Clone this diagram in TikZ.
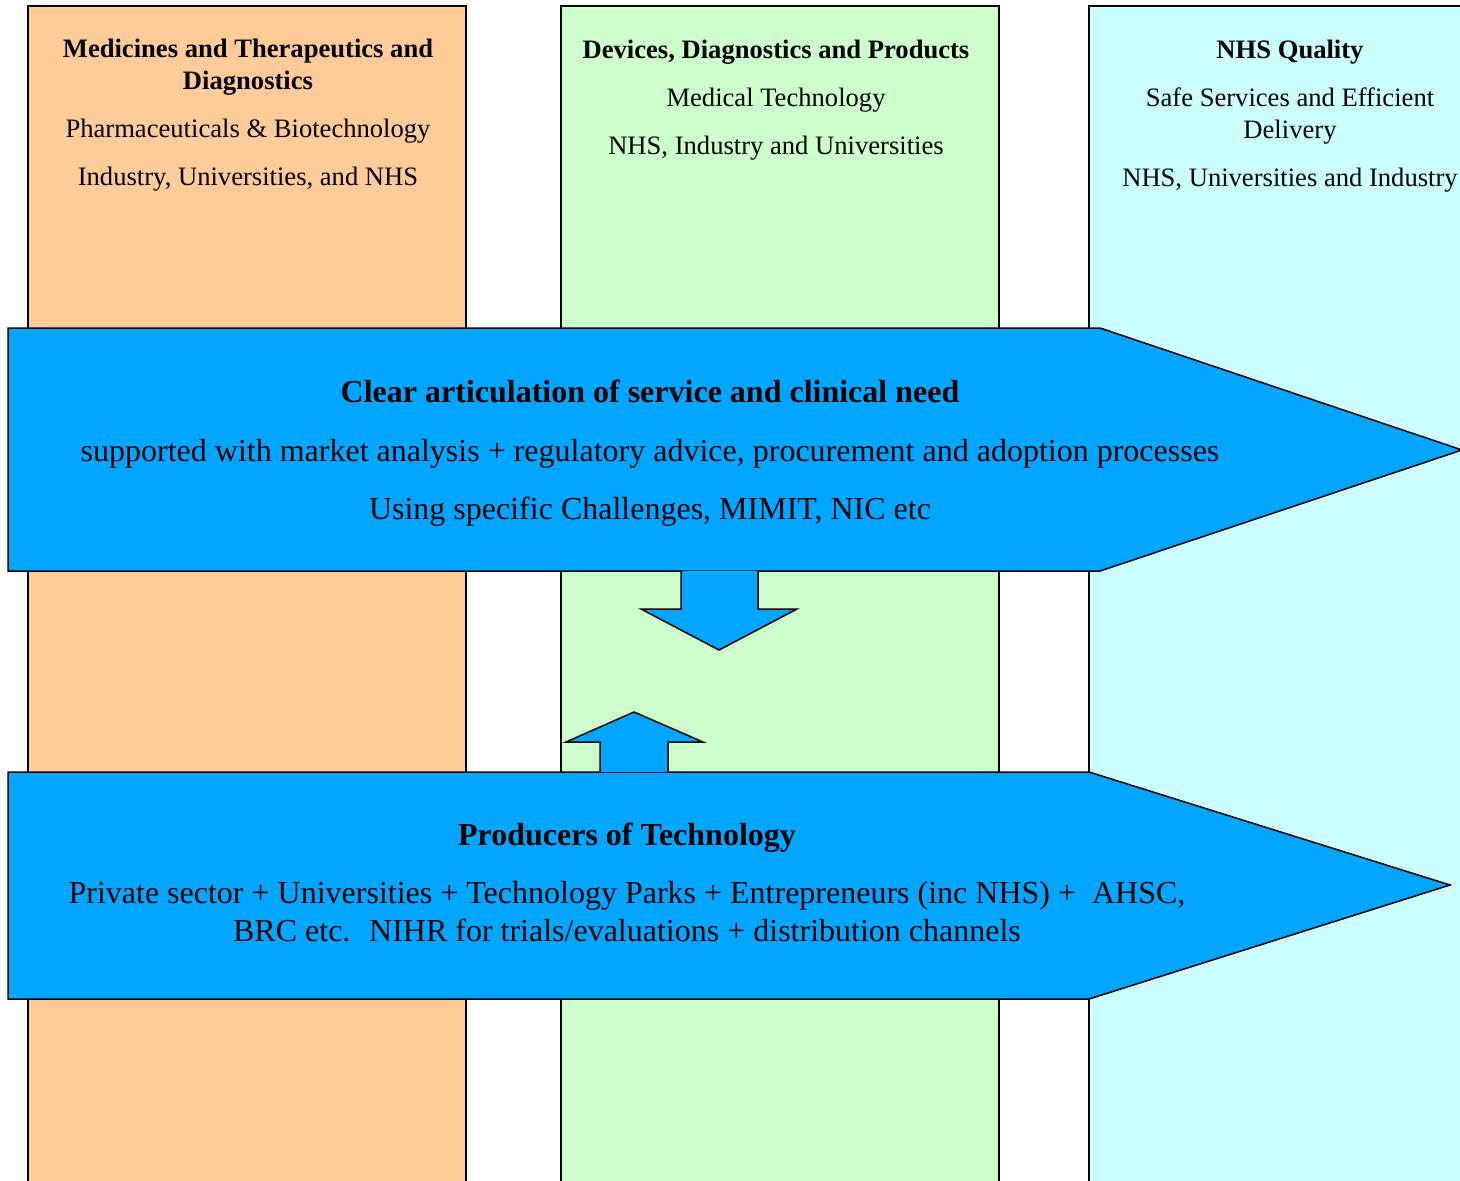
\documentclass[tikz,border=0pt]{standalone}
\usepackage{fontspec}
\setmainfont{Liberation Serif}
\definecolor{colA}{HTML}{FFCC99}
\definecolor{colB}{HTML}{CCFFCC}
\definecolor{colC}{HTML}{CCFFFF}
\definecolor{arrowblue}{RGB}{0,166,255}
\tikzset{
  colbox/.style={draw=black, line width=1.5pt},
  blockarrow/.style={draw=black, fill=arrowblue, line width=1.5pt, line join=miter},
  coltext/.style={anchor=base, inner sep=0pt, font=\fontsize{26.6}{32}\selectfont},
  coltitle/.style={coltext, font=\fontsize{26.6}{32}\selectfont\bfseries},
  bigtext/.style={anchor=base, inner sep=0pt, font=\fontsize{32}{38}\selectfont},
  bigtitle/.style={bigtext, font=\fontsize{32}{38}\selectfont\bfseries}
}
\begin{document}
\begin{tikzpicture}[x=1pt,y=-1pt]
\clip (0,0) rectangle (1460,1181);
\fill[white] (0,0) rectangle (1460,1181);
% columns
\draw[colbox, fill=colA] (28,6) rectangle (466,1200);
\draw[colbox, fill=colB] (561,6) rectangle (999,1200);
\draw[colbox, fill=colC] (1089,6) rectangle (1520,1200);
% column texts
\node[coltitle] (t1a) at (248,57) {Medicines and Therapeutics and};
\node[coltitle] (t1b) at (248,89) {Diagnostics};
\node[coltext] (t1c) at (248,137) {Pharmaceuticals \& Biotechnology};
\node[coltext] (t1d) at (248,185) {Industry, Universities, and NHS};
\node[coltitle] (t2a) at (776,58) {Devices, Diagnostics and Products};
\node[coltext] (t2b) at (776,106) {Medical Technology};
\node[coltext] (t2c) at (776,154) {NHS, Industry and Universities};
\node[coltitle] (t3a) at (1290,58) {NHS Quality};
\node[coltext] (t3b) at (1290,106) {Safe Services and Efficient};
\node[coltext] (t3c) at (1290,138) {Delivery};
\node[coltext] (t3d) at (1290,186) {NHS, Universities and Industry};
% big arrow 1
\draw[blockarrow] (8,328) -- (1100,328) -- (1462,450) -- (1100,571) -- (8,571) -- cycle;
\node[bigtitle] (a1a) at (650,402) {Clear articulation of service and clinical need};
\node[bigtext] (a1b) at (650,461) {supported with market analysis + regulatory advice, procurement and adoption processes};
\node[bigtext] (a1c) at (650,519) {Using specific Challenges, MIMIT, NIC etc};
% big arrow 2
\draw[blockarrow] (8,772) -- (1089,772) -- (1450,885) -- (1089,999) -- (8,999) -- cycle;
\node[bigtitle] (a2a) at (627,845) {Producers of Technology};
\node[bigtext] (a2b) at (627,903) {Private sector + Universities + Technology Parks + Entrepreneurs (inc NHS) + \ AHSC,};
\node[bigtext] (a2c) at (627,941) {BRC etc. \ NIHR for trials/evaluations + distribution channels};
% down arrow
\draw[blockarrow] (681,571) -- (681,609) -- (641,609) -- (719,650) -- (797,609) -- (758,609) -- (758,571);
% up arrow
\draw[blockarrow] (600,772) -- (600,742) -- (566,742) -- (634,712) -- (703,742) -- (668,742) -- (668,772);
\end{tikzpicture}
\end{document}
